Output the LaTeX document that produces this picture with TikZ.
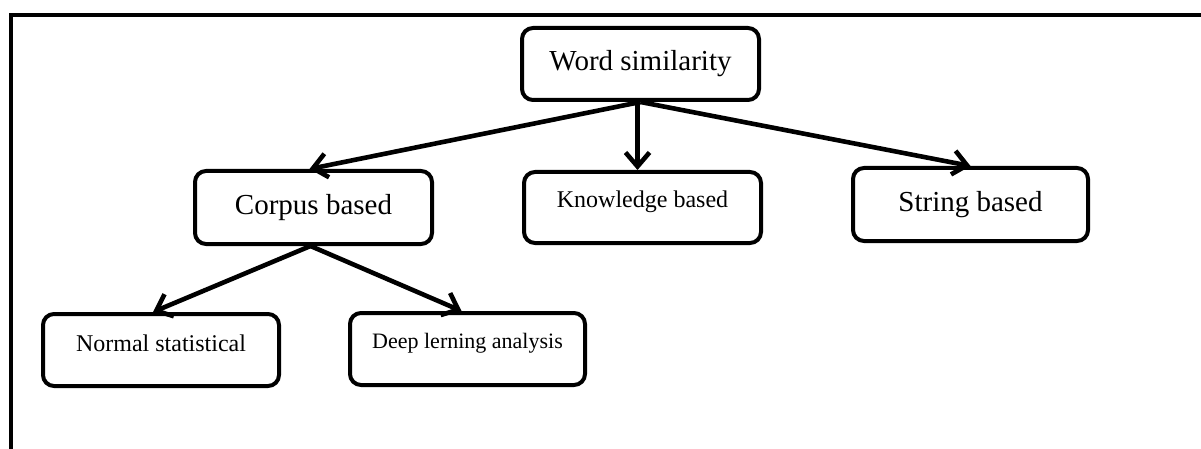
\documentclass[tikz,border=0pt]{standalone}
\usepackage{fontspec}
\setmainfont{Liberation Serif}
\usetikzlibrary{arrows.meta}
\begin{document}
\begin{tikzpicture}[x=1pt,y=-1pt,
  box/.style={draw, line width=4pt, rounded corners=11pt, inner sep=0pt, align=center},
  conn/.style={line width=4.6pt, -{Straight Barb[length=14pt,width=24pt]}},
  big/.style={font=\fontsize{29}{33}\selectfont},
  small/.style={font=\fontsize{24}{28}\selectfont},
  tiny/.style={font=\fontsize{22}{26}\selectfont}]
\useasboundingbox (0,0) rectangle (1201,449);
\draw[line width=4.5pt] (11,449) -- (11,15) -- (1201,15);

\node[box,big,minimum width=237pt,minimum height=72pt] (word) at (640.5,64) {\raisebox{6pt}{Word similarity}};
\node[box,big,minimum width=237pt,minimum height=73pt] (corpus) at (313.5,207.5) {\raisebox{5pt}{Corpus based}};
\node[box,small,minimum width=237pt,minimum height=71pt] (know) at (642.5,207.5) {\raisebox{16pt}{Knowledge based}};
\node[box,big,minimum width=235pt,minimum height=73pt] (string) at (970.5,204.5) {\raisebox{5pt}{String based}};
\node[box,small,minimum width=236pt,minimum height=72pt] (normal) at (161,350) {\raisebox{13pt}{Normal statistical}};
\node[box,tiny,minimum width=235pt,minimum height=72pt] (deep) at (467.5,349) {\raisebox{16pt}{Deep lerning analysis}};

\draw[conn] (word.south) -- ([xshift=-4pt]corpus.north);
\draw[conn] ([xshift=-3pt]word.south) -- ([xshift=-5pt]know.north);
\draw[conn] (word.south) -- (string.north);
\draw[conn] ([xshift=-3pt]corpus.south) -- ([xshift=-8pt]normal.north);
\draw[conn] ([xshift=-3pt]corpus.south) -- ([xshift=-6pt]deep.north);
\end{tikzpicture}
\end{document}
